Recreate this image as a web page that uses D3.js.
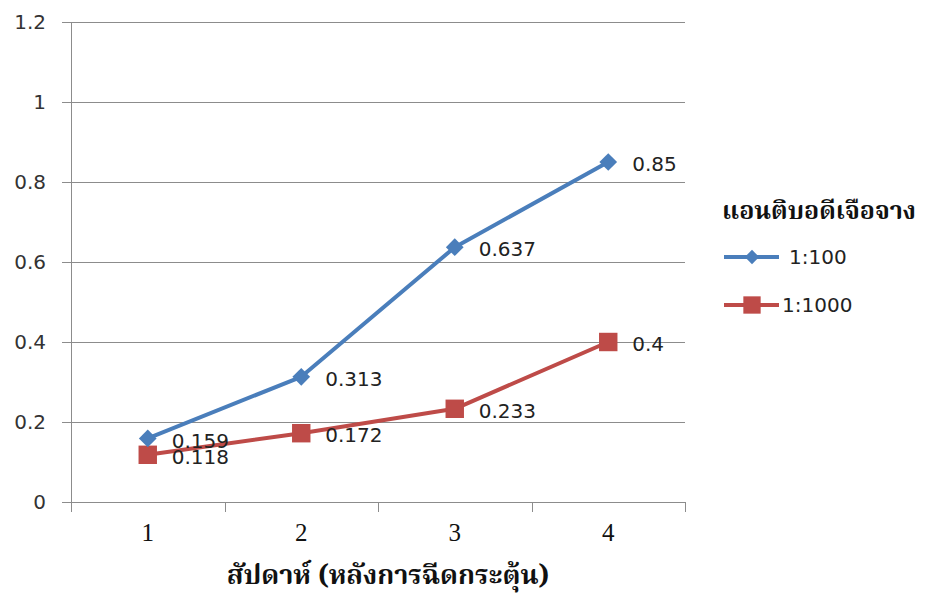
<!DOCTYPE html>
<html lang="th">
<head>
<meta charset="UTF-8">
<title>Antibody dilution</title>
<style>
    body { margin: 0; background: #fff; }
    .thai { font-family: "Noto Serif Thai", "Noto Sans Thai", "Tlwg Typo", "Loma", "Liberation Serif", serif; font-weight: bold; }
</style>
</head>
<body>
<div id="chart"></div>
<script src="https://d3js.org/d3.v7.min.js"></script>
<script>
    // data
    var weeks = ["1", "2", "3", "4"];
    var series100 = [0.159, 0.313, 0.637, 0.85];
    var series1000 = [0.118, 0.172, 0.233, 0.4];
    var yTicks = [0, 0.2, 0.4, 0.6, 0.8, 1, 1.2];
    var seriesNames = ["1:100", "1:1000"];
    var legendTitle = "แอนติบอดีเจือจาง";
    var xTitle = "สัปดาห์ (หลังการฉีดกระตุ้น)";

    var width = 932, height = 595;
    // note: "top" is a reserved window prop, so use plot* names
    var plotLeft = 71, plotRight = 685, plotTop = 22, plotBottom = 502;

    var svg = d3.select("#chart").append("svg")
        .attr("width", width)
        .attr("height", height);

    var x = d3.scaleBand().domain(weeks).range([plotLeft, plotRight]);
    var y = d3.scaleLinear().domain([0, 1.2]).range([plotBottom, plotTop]);

    // grid
    svg.append("g")
        .selectAll("line")
        .data(yTicks)
        .join("line")
        .attr("x1", plotLeft - 9)
        .attr("x2", plotRight)
        .attr("y1", function (d) { return Math.round(y(d)) + 0.5; })
        .attr("y2", function (d) { return Math.round(y(d)) + 0.5; })
        .attr("stroke", "#8c8c8c")
        .attr("stroke-width", 1);

    // y axis line
    svg.append("line")
        .attr("x1", plotLeft + 0.5).attr("x2", plotLeft + 0.5)
        .attr("y1", plotTop).attr("y2", plotBottom + 0.5)
        .attr("stroke", "#8c8c8c");

    // y labels
    svg.append("g")
        .selectAll("text")
        .data(yTicks)
        .join("text")
        .attr("x", 46)
        .attr("y", function (d) { return y(d); })
        .attr("dy", "0.36em")
        .attr("text-anchor", "end")
        .attr("font-family", "DejaVu Sans, sans-serif")
        .attr("font-size", 20)
        .attr("fill", "#333")
        .text(function (d) { return d; });

    // x ticks at band edges
    var edges = weeks.map(function (w) { return x(w); }).concat([plotRight]);
    svg.append("g")
        .selectAll("line")
        .data(edges)
        .join("line")
        .attr("x1", function (d) { return Math.round(d) + 0.5; })
        .attr("x2", function (d) { return Math.round(d) + 0.5; })
        .attr("y1", plotBottom)
        .attr("y2", plotBottom + 10)
        .attr("stroke", "#8c8c8c");

    // x labels
    svg.append("g")
        .selectAll("text")
        .data(weeks)
        .join("text")
        .attr("x", function (d) { return x(d) + x.bandwidth() / 2; })
        .attr("y", 541)
        .attr("text-anchor", "middle")
        .attr("font-family", "Liberation Serif, serif")
        .attr("font-size", 25)
        .attr("fill", "#111")
        .text(function (d) { return d; });

    // x title
    svg.append("text")
        .attr("class", "thai")
        .attr("x", 388)
        .attr("y", 584)
        .attr("text-anchor", "middle")
        .attr("font-size", 27)
        .attr("fill", "#111")
        .text(xTitle);

    var cx = function (d, i) { return x(weeks[i]) + x.bandwidth() / 2; };

    var line = d3.line()
        .x(function (d, i) { return cx(d, i); })
        .y(function (d) { return y(d); });

    var colors = ["#4a7ebb", "#be4b48"];

    function drawSeries(data, color, marker) {
        svg.append("path")
            .datum(data)
            .attr("d", line)
            .attr("fill", "none")
            .attr("stroke", color)
            .attr("stroke-width", 4)
            .attr("stroke-linejoin", "round");

        var sym = marker == "diamond"
            ? d3.symbol().type(d3.symbolDiamond2).size(200)
            : d3.symbol().type(d3.symbolSquare).size(340);

        svg.append("g")
            .selectAll("path")
            .data(data)
            .join("path")
            .attr("transform", function (d, i) { return "translate(" + cx(d, i) + "," + y(d) + ")"; })
            .attr("d", sym)
            .attr("fill", color);

        svg.append("g")
            .selectAll("text")
            .data(data)
            .join("text")
            .attr("x", function (d, i) { return cx(d, i) + 24; })
            .attr("y", function (d) { return y(d) + 2; })
            .attr("dy", "0.36em")
            .attr("font-family", "DejaVu Sans, sans-serif")
            .attr("font-size", 20)
            .attr("fill", "#222")
            .text(function (d) { return d; });
    }

    drawSeries(series1000, colors[1], "square");
    drawSeries(series100, colors[0], "diamond");

    // legend
    svg.append("text")
        .attr("class", "thai")
        .attr("x", 722)
        .attr("y", 219)
        .attr("font-size", 25)
        .attr("fill", "#111")
        .text(legendTitle);

    var legendY = [257, 305];
    var markers = ["diamond", "square"];
    seriesNames.forEach(function (name, i) {
        var g = svg.append("g").attr("transform", "translate(0," + legendY[i] + ")");
        g.append("line")
            .attr("x1", 724).attr("x2", 779)
            .attr("stroke", colors[i])
            .attr("stroke-width", 4);
        g.append("path")
            .attr("transform", "translate(752,0)")
            .attr("d", markers[i] == "diamond"
                ? d3.symbol().type(d3.symbolDiamond2).size(130)
                : d3.symbol().type(d3.symbolSquare).size(300))
            .attr("fill", colors[i]);
        g.append("text")
            .attr("x", i == 0 ? 789 : 782)
            .attr("dy", "0.36em")
            .attr("font-family", "DejaVu Sans, sans-serif")
            .attr("font-size", 20)
            .attr("fill", "#222")
            .text(name);
    });
</script>
</body>
</html>
